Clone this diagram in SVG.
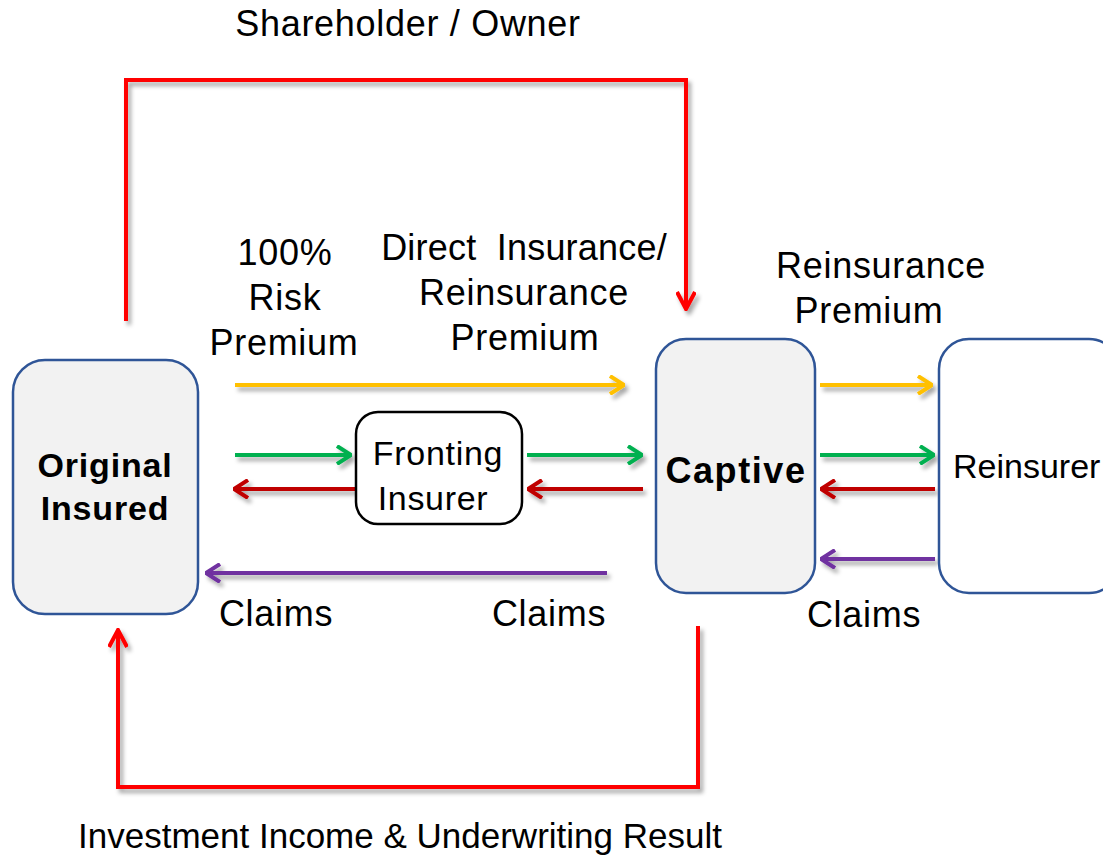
<svg xmlns="http://www.w3.org/2000/svg" width="1103" height="859" viewBox="0 0 1103 859">
<defs>
<style>
.t{font-family:"Liberation Sans",Arial,sans-serif;font-size:36px;letter-spacing:0.7px;fill:#000;text-anchor:middle}
.b{font-size:34px;font-weight:bold;letter-spacing:0.8px}
.box{fill:#f2f2f2;stroke:#2f5597;stroke-width:2.5}
.ln{fill:none;stroke-width:4}
</style>
<filter id="sh" x="-10%" y="-10%" width="130%" height="140%">
<feDropShadow dx="3" dy="4" stdDeviation="2" flood-color="#000" flood-opacity="0.35"/>
</filter>
<marker id="my" markerUnits="userSpaceOnUse" viewBox="0 0 16 20" refX="15" refY="10" markerWidth="16" markerHeight="20" orient="auto"><path d="M1,1 L15,10 L1,19" fill="none" stroke="#ffc000" stroke-width="4"/></marker>
<marker id="mg" markerUnits="userSpaceOnUse" viewBox="0 0 16 20" refX="15" refY="10" markerWidth="16" markerHeight="20" orient="auto"><path d="M1,1 L15,10 L1,19" fill="none" stroke="#00b050" stroke-width="4"/></marker>
<marker id="md" markerUnits="userSpaceOnUse" viewBox="0 0 16 20" refX="15" refY="10" markerWidth="16" markerHeight="20" orient="auto"><path d="M1,1 L15,10 L1,19" fill="none" stroke="#c00000" stroke-width="4"/></marker>
<marker id="mp" markerUnits="userSpaceOnUse" viewBox="0 0 16 20" refX="15" refY="10" markerWidth="16" markerHeight="20" orient="auto"><path d="M1,1 L15,10 L1,19" fill="none" stroke="#7030a0" stroke-width="4"/></marker>
<marker id="mr" markerUnits="userSpaceOnUse" viewBox="0 0 20 20" refX="18" refY="10" markerWidth="20" markerHeight="20" orient="auto"><path d="M1,1 L18,10 L1,19" fill="none" stroke="#ff0000" stroke-width="4"/></marker>
</defs>
<rect width="1103" height="859" fill="#fff"/>

<g id="connectors" filter="url(#sh)">
<path class="ln" d="M126,321 V80 H686 V309" stroke="#ff0000" marker-end="url(#mr)"/>
<path class="ln" d="M698,626 V787 H118 V630" stroke="#ff0000" marker-end="url(#mr)"/>
<line class="ln" x1="235" y1="385" x2="624" y2="385" stroke="#ffc000" marker-end="url(#my)"/>
<line class="ln" x1="820" y1="385" x2="932" y2="385" stroke="#ffc000" marker-end="url(#my)"/>
<line class="ln" x1="235" y1="455" x2="351" y2="455" stroke="#00b050" marker-end="url(#mg)"/>
<line class="ln" x1="527" y1="455" x2="642" y2="455" stroke="#00b050" marker-end="url(#mg)"/>
<line class="ln" x1="820" y1="455" x2="934" y2="455" stroke="#00b050" marker-end="url(#mg)"/>
<line class="ln" x1="355" y1="489" x2="234" y2="489" stroke="#c00000" marker-end="url(#md)"/>
<line class="ln" x1="643" y1="489" x2="528" y2="489" stroke="#c00000" marker-end="url(#md)"/>
<line class="ln" x1="935" y1="489" x2="821" y2="489" stroke="#c00000" marker-end="url(#md)"/>
<line class="ln" x1="607" y1="573" x2="206" y2="573" stroke="#7030a0" marker-end="url(#mp)"/>
<line class="ln" x1="935" y1="559" x2="821" y2="559" stroke="#7030a0" marker-end="url(#mp)"/>
</g>

<g id="original-insured">
<rect class="box" x="13" y="360" width="185" height="254" rx="32"/>
<text class="t b" x="105" y="477">Original</text>
<text class="t b" x="105" y="520">Insured</text>
</g>
<g id="fronting-insurer">
<rect x="356" y="412" width="166" height="112" rx="22" fill="#fff" stroke="#000" stroke-width="2.5"/>
<text class="t" x="438" y="465" style="font-size:34px">Fronting</text>
<text class="t" x="433" y="510" style="font-size:34px">Insurer</text>
</g>
<g id="captive">
<rect class="box" x="656" y="339" width="159" height="254" rx="30"/>
<text class="t b" x="736" y="483" style="font-size:36px;letter-spacing:1.6px">Captive</text>
</g>
<g id="reinsurer">
<rect x="939" y="339" width="180" height="254" rx="30" fill="#fff" stroke="#2f5597" stroke-width="2.5"/>
<text class="t" x="953" y="478" style="text-anchor:start;font-size:34px;letter-spacing:0px">Reinsurer</text>
</g>

<g id="labels">
<text class="t" x="408" y="36">Shareholder / Owner</text>
<text class="t" x="285" y="265">100%</text>
<text class="t" x="285" y="310">Risk</text>
<text class="t" x="284" y="355">Premium</text>
<text class="t" x="524" y="260" xml:space="preserve" style="letter-spacing:0.2px">Direct  Insurance/</text>
<text class="t" x="524" y="305">Reinsurance</text>
<text class="t" x="525" y="350">Premium</text>
<text class="t" x="881" y="278">Reinsurance</text>
<text class="t" x="869" y="323">Premium</text>
<text class="t" x="276" y="626">Claims</text>
<text class="t" x="549" y="626">Claims</text>
<text class="t" x="864" y="627">Claims</text>
<text class="t" x="400" y="848" style="font-size:35px;letter-spacing:0px">Investment Income &amp; Underwriting Result</text>
</g>
</svg>
